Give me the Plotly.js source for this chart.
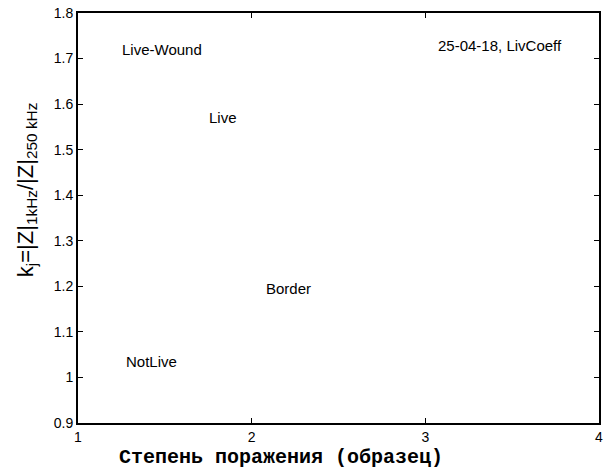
<!DOCTYPE html>
<html>
<head>
<meta charset="utf-8">
<script src="https://cdn.plot.ly/plotly-3.0.1.min.js"></script>
<style>
  html, body { margin: 0; padding: 0; background: #fff; }
  #chart { width: 605px; height: 469px; }
</style>
</head>
<body>
<div id="chart"></div>
<script>
// Group labels placed at their (sample, coefficient) positions
const labels = ['Live-Wound', 'Live', 'Border', 'NotLive', '25-04-18, LivCoeff'];
const labelX = [1.24, 1.74, 2.07, 1.265, 3.06];
const labelY = [1.72, 1.57, 1.196, 1.034, 1.728];

const xTicks = [1, 2, 3, 4];
const yTicks = [0.9, 1, 1.1, 1.2, 1.3, 1.4, 1.5, 1.6, 1.7, 1.8];
const yTickText = ['0.9', '1', '1.1', '1.2', '1.3', '1.4', '1.5', '1.6', '1.7', '1.8'];

const xTitle = 'Степень поражения (образец)';
const yTitle = 'k<sub>j</sub>=|Z|<sub>1kHz</sub>/|Z|<sub>250 kHz</sub>';

const sans = 'Liberation Sans, Arial, sans-serif';
const mono = 'Liberation Mono, Courier New, monospace';

const trace = {
  x: labelX,
  y: labelY,
  mode: 'markers',
  marker: { opacity: 0 },
  hoverinfo: 'skip',
  showlegend: false
};

const annotations = labels.map((t, i) => ({
  x: labelX[i], y: labelY[i], xref: 'x', yref: 'y',
  text: t, showarrow: false, xanchor: 'left', yanchor: 'middle',
  font: { family: sans, size: 15, color: '#000' }
}));

// axis titles
annotations.push({
  xref: 'paper', yref: 'paper', x: 0.39, y: -0.085,
  text: '<b>' + xTitle + '</b>', showarrow: false,
  xanchor: 'center', yanchor: 'middle',
  font: { family: mono, size: 20, color: '#000' }
});
annotations.push({
  xref: 'paper', yref: 'paper', x: -0.098, y: 0.57,
  text: yTitle, showarrow: false, textangle: -90,
  xanchor: 'center', yanchor: 'middle',
  font: { family: sans, size: 22, color: '#000' }
});

const axisCommon = {
  showgrid: false, zeroline: false, showline: true, mirror: 'ticks',
  linecolor: '#000', linewidth: 2, ticks: 'inside', ticklen: 5,
  tickcolor: '#000', tickwidth: 1,
  tickfont: { family: sans, size: 14, color: '#000' }
};

const layout = {
  width: 605, height: 469,
  margin: { l: 78, r: 6, t: 13, b: 46 },
  paper_bgcolor: '#fff', plot_bgcolor: '#fff',
  xaxis: Object.assign({}, axisCommon, {
    range: [1, 4], tickvals: xTicks, ticktext: xTicks.map(String)
  }),
  yaxis: Object.assign({}, axisCommon, {
    range: [0.9, 1.8], tickvals: yTicks, ticktext: yTickText
  }),
  annotations: annotations
};

Plotly.newPlot('chart', [trace], layout, { displayModeBar: false, staticPlot: true });
</script>
</body>
</html>
